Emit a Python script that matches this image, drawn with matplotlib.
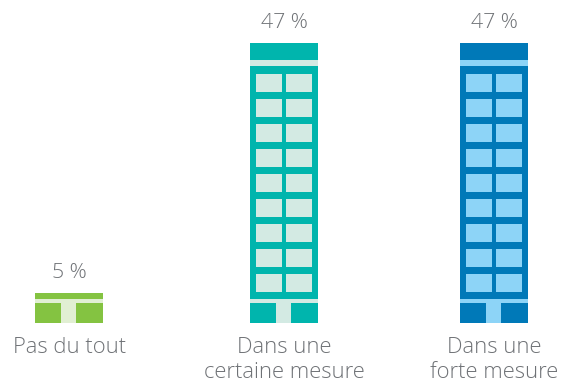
import matplotlib
matplotlib.use("Agg")
import matplotlib.pyplot as plt
from matplotlib.patches import Rectangle

categories = ["Pas du tout", "Dans une\ncertaine mesure", "Dans une\nforte mesure"]
values = [5, 47, 47]
value_labels = ["5 %", "47 %", "47 %"]
wall_colors = ["#84c341", "#00b5ad", "#0079b8"]
pane_colors = ["#e1efd3", "#d3eae3", "#8dd4f7"]
centers = [69, 284, 494]

W, H = 565, 390
BASE = 323          # baseline, pixels from the top
PX_PER_PCT = 280 / 47
BAR_W = 68

plt.rcParams["font.family"] = ["Open Sans", "DejaVu Sans"]

fig = plt.figure(figsize=(W / 100, H / 100), dpi=100)
ax = fig.add_axes([0, 0, 1, 1])
ax.set_xlim(0, W)
ax.set_ylim(H, 0)
ax.axis("off")
TEXT = "#6f7276"


def box(x, y, w, h, color):
    ax.add_patch(Rectangle((x, y), w, h, facecolor=color, edgecolor="none", zorder=3))


for cat, val, lab, wall, pane, cx in zip(categories, values, value_labels,
                                         wall_colors, pane_colors, centers):
    height = val * PX_PER_PCT
    top = BASE - height
    left = cx - BAR_W / 2
    ax.bar(cx, height, width=BAR_W, bottom=top, color=wall, linewidth=0, zorder=2)

    # ground floor: a pale band across the width and a central door
    box(left, BASE - 24, BAR_W, 4, pane)
    box(left + 26, BASE - 20, 15, 20, pane)

    # floors above: a roof band, then rows of paired windows
    floors = max(0, int((height - 47) // 25))
    if floors:
        box(left, top + 17, BAR_W, 6, pane)
    for i in range(floors):
        y = BASE - 49 - 25 * i
        box(left + 6, y, 26, 18, pane)
        box(left + 36, y, 26, 18, pane)

    ax.text(cx, top - 20, lab, ha="center", va="center", fontsize=15.3,
            fontweight="light", color=TEXT)
    ax.text(cx + 0.5, 337, cat, ha="center", va="top", fontsize=15.8,
            fontweight="light", color=TEXT, linespacing=1.26)

fig.savefig("out.png", dpi=100)
